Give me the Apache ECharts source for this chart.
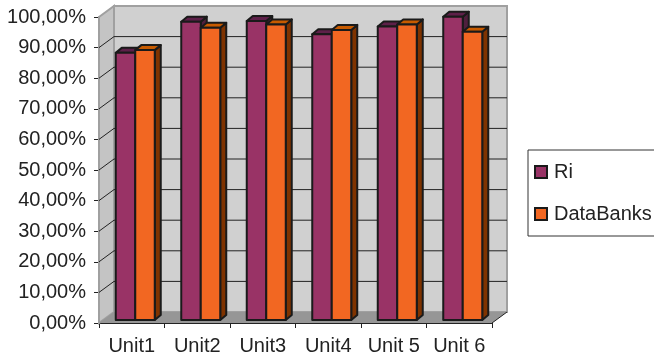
<!DOCTYPE html>
<html>
<head>
<meta charset="utf-8">
<style>
  html, body { margin: 0; padding: 0; background: #fff; }
  #chart { width: 654px; height: 359px; }
</style>
<script src="https://cdn.jsdelivr.net/npm/echarts@6/dist/echarts.min.js"></script>
</head>
<body>
<div id="chart"></div>
<script>
const categories = ['Unit1', 'Unit2', 'Unit3', 'Unit4', 'Unit 5', 'Unit 6']
const ri = [87.3, 97.5, 97.7, 93.4, 95.9, 99.1]
const dataBanks = [88.2, 95.5, 96.6, 94.8, 96.6, 94.2]
const yTicks = [0, 10, 20, 30, 40, 50, 60, 70, 80, 90, 100]
const yLabels = ['0,00%', '10,00%', '20,00%', '30,00%', '40,00%', '50,00%', '60,00%', '70,00%', '80,00%', '90,00%', '100,00%']

const FONT = '"Liberation Sans", Arial, sans-serif'
const DEPTH_X = 15
const DEPTH_Y = 11
const OUTLINE = '#1a1a1a'

// walls, floor and gridlines of the fake 3d box
function renderWall(params, api) {
  const cs = params.coordSys
  const left = cs.x
  const right = cs.x + cs.width
  const bottom = cs.y + cs.height
  const top = cs.y
  const y = api.coord([0, api.value(0)])[1]
  const children = []
  const poly = (points, fill, stroke, lineWidth) => ({
    type: 'polygon',
    shape: { points },
    style: { fill, stroke, lineWidth: lineWidth || 0 }
  })
  if (params.dataIndex === 0) {
    children.push(poly([[left + DEPTH_X, top - DEPTH_Y], [right + DEPTH_X, top - DEPTH_Y], [right + DEPTH_X, bottom - DEPTH_Y], [left + DEPTH_X, bottom - DEPTH_Y]], '#d0d0d0', '#a0a0a0', 2))
    children.push(poly([[left, top], [left + DEPTH_X, top - DEPTH_Y], [left + DEPTH_X, bottom - DEPTH_Y], [left, bottom]], '#c4c4c4', '#a0a0a0', 2))
    children.push(poly([[left, bottom], [left + DEPTH_X, bottom - DEPTH_Y], [right + DEPTH_X, bottom - DEPTH_Y], [right, bottom]], '#969696', null))
    children.push({
      type: 'polyline',
      shape: { points: [[right, bottom], [right + DEPTH_X, bottom - DEPTH_Y]] },
      style: { fill: null, stroke: '#222', lineWidth: 1 }
    })
  }
  if (api.value(0) > 0 && api.value(0) < 100) {
    children.push({
      type: 'polyline',
      shape: { points: [[left, y], [left + DEPTH_X, y - DEPTH_Y], [right + DEPTH_X, y - DEPTH_Y]] },
      style: { fill: null, stroke: '#222', lineWidth: 1 }
    })
  }
  return { type: 'group', children }
}

// one fake 3d bar, seriesPos 0 sits left of the band centre and 1 right of it
function renderBar(seriesPos, front, topFace, side) {
  return function (params, api) {
    const w = 19.5
    const d = 6
    const h = 5
    const base = api.coord([api.value(0), 0])
    const head = api.coord([api.value(0), api.value(1)])
    const x0 = base[0] + 3.5 + (seriesPos - 1) * w
    const x1 = x0 + w
    const y0 = base[1] - 3
    const y1 = head[1] - 3
    const style = (fill) => ({ fill, stroke: OUTLINE, lineWidth: 2, lineJoin: 'round' })
    return {
      type: 'group',
      children: [
        { type: 'polygon', shape: { points: [[x1, y1], [x1 + d, y1 - h], [x1 + d, y0 - h], [x1, y0]] }, style: style(side) },
        { type: 'polygon', shape: { points: [[x0, y1], [x0 + d, y1 - h], [x1 + d, y1 - h], [x1, y1]] }, style: style(topFace) },
        { type: 'rect', shape: { x: x0, y: y1, width: w, height: y0 - y1 }, style: style(front) }
      ]
    }
  }
}

const chart = echarts.init(document.getElementById('chart'), null, { renderer: 'canvas' })

chart.setOption({
  animation: false,
  backgroundColor: '#fff',
  textStyle: { fontFamily: FONT },
  grid: { left: 99, top: 17, width: 393, height: 306 },
  legend: {
    orient: 'vertical',
    left: 528,
    top: 150,
    padding: [12, 10, 12, 6],
    itemWidth: 12,
    itemHeight: 12,
    itemGap: 22,
    borderColor: '#333',
    borderWidth: 1,
    icon: 'rect',
    textStyle: { fontFamily: FONT, fontSize: 20, color: '#222', padding: [0, 0, 0, 2] },
    data: [
      { name: 'Ri', itemStyle: { color: '#993366', borderColor: OUTLINE, borderWidth: 2 } },
      { name: 'DataBanks', itemStyle: { color: '#f26722', borderColor: OUTLINE, borderWidth: 2 } }
    ]
  },
  xAxis: {
    type: 'category',
    data: categories,
    axisLine: { lineStyle: { color: '#222', width: 1 } },
    axisTick: { show: true, length: 5, lineStyle: { color: '#222' } },
    axisLabel: { fontFamily: FONT, fontSize: 20, color: '#222', margin: 13, interval: 0, hideOverlap: false }
  },
  yAxis: {
    type: 'value',
    min: 0,
    max: 100,
    interval: 10,
    splitLine: { show: false },
    axisLine: { show: true, lineStyle: { color: '#a0a0a0', width: 2 } },
    axisTick: { show: true, length: 5, lineStyle: { color: '#222' } },
    axisLabel: {
      fontFamily: FONT,
      fontSize: 20,
      color: '#222',
      margin: 13,
      formatter: (v) => yLabels[yTicks.indexOf(v)]
    }
  },
  series: [
    {
      name: 'wall',
      type: 'custom',
      z: 1,
      silent: true,
      clip: false,
      renderItem: renderWall,
      encode: { y: 0 },
      data: yTicks.map((v) => [v])
    },
    {
      name: 'Ri',
      type: 'custom',
      z: 2,
      clip: false,
      itemStyle: { color: '#993366' },
      renderItem: renderBar(0, '#993366', '#5e2049', '#4f1f3d'),
      encode: { x: 0, y: 1 },
      data: ri.map((v, i) => [i, v])
    },
    {
      name: 'DataBanks',
      type: 'custom',
      z: 3,
      clip: false,
      itemStyle: { color: '#f26722' },
      renderItem: renderBar(1, '#f26722', '#c75b00', '#7f3300'),
      encode: { x: 0, y: 1 },
      data: dataBanks.map((v, i) => [i, v])
    }
  ]
})
</script>
</body>
</html>
